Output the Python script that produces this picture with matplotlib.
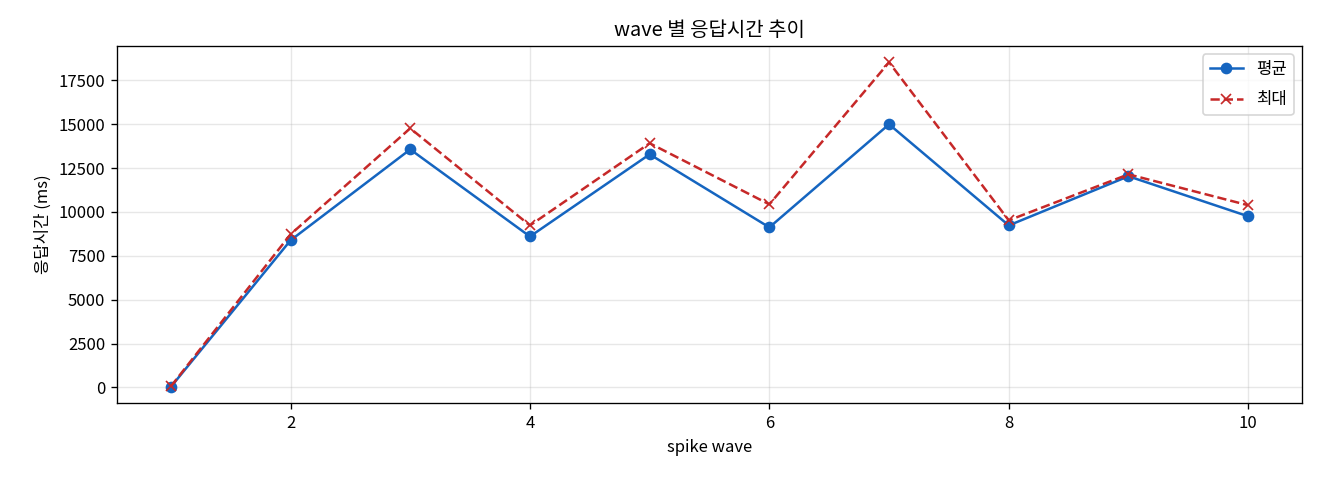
import matplotlib
matplotlib.use("Agg")
import matplotlib.pyplot as plt

plt.rcParams['font.family'] = ['Noto Sans CJK KR', 'DejaVu Sans']
plt.rcParams['axes.unicode_minus'] = False

waves = [1, 2, 3, 4, 5, 6, 7, 8, 9, 10]
avg_ms = [30, 8380, 13560, 8600, 13280, 9120, 14990, 9230, 12030, 9750]
max_ms = [60, 8720, 14760, 9230, 13910, 10430, 18520, 9520, 12140, 10380]

fig, ax = plt.subplots(figsize=(11, 4), dpi=120)
ax.plot(waves, avg_ms, marker='o', color='#1565c0', label='평균')
ax.plot(waves, max_ms, marker='x', linestyle='--', color='#c62828', label='최대')
ax.set_title('wave 별 응답시간 추이')
ax.set_xlabel('spike wave')
ax.set_ylabel('응답시간 (ms)')
ax.grid(True, alpha=0.3)
ax.legend(loc='upper right', labelspacing=0.8)
fig.subplots_adjust(left=0.0886, right=0.9864, top=0.904, bottom=0.160)
fig.savefig('out.png')
